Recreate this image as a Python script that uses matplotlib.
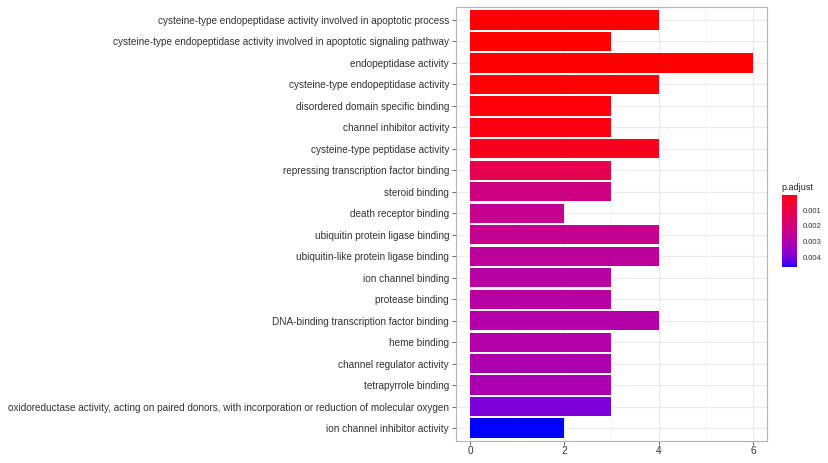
import numpy as np
import matplotlib
matplotlib.use("Agg")
import matplotlib.pyplot as plt
from matplotlib.colors import ListedColormap, Normalize
from matplotlib.ticker import MultipleLocator

terms = [
    "cysteine-type endopeptidase activity involved in apoptotic process",
    "cysteine-type endopeptidase activity involved in apoptotic signaling pathway",
    "endopeptidase activity",
    "cysteine-type endopeptidase activity",
    "disordered domain specific binding",
    "channel inhibitor activity",
    "cysteine-type peptidase activity",
    "repressing transcription factor binding",
    "steroid binding",
    "death receptor binding",
    "ubiquitin protein ligase binding",
    "ubiquitin-like protein ligase binding",
    "ion channel binding",
    "protease binding",
    "DNA-binding transcription factor binding",
    "heme binding",
    "channel regulator activity",
    "tetrapyrrole binding",
    "oxidoreductase activity, acting on paired donors, with incorporation or reduction of molecular oxygen",
    "ion channel inhibitor activity",
]
counts = [4, 3, 6, 4, 3, 3, 4, 3, 3, 2, 4, 4, 3, 3, 4, 3, 3, 3, 3, 2]
p_adjust = [0.00005, 0.00006, 0.00008, 0.0001, 0.00015, 0.0002, 0.0003,
            0.0012, 0.0022, 0.0024, 0.0025, 0.0027, 0.0028, 0.0029, 0.0030,
            0.0030, 0.0031, 0.0031, 0.0039, 0.0046]


def srgb_to_lab(rgb):
    rgb = np.asarray(rgb, float)
    lin = np.where(rgb <= 0.04045, rgb / 12.92, ((rgb + 0.055) / 1.055) ** 2.4)
    m = np.array([[0.4124, 0.3576, 0.1805],
                  [0.2126, 0.7152, 0.0722],
                  [0.0193, 0.1192, 0.9505]])
    xyz = m @ lin / np.array([0.95047, 1.0, 1.08883])
    f = np.where(xyz > 0.008856, np.cbrt(xyz), 7.787 * xyz + 16 / 116)
    return np.array([116 * f[1] - 16, 500 * (f[0] - f[1]), 200 * (f[1] - f[2])])


def lab_to_srgb(lab):
    L, a, b = lab
    fy = (L + 16) / 116
    fx = fy + a / 500
    fz = fy - b / 200
    f = np.array([fx, fy, fz])
    xyz = np.where(f ** 3 > 0.008856, f ** 3, (f - 16 / 116) / 7.787)
    xyz = xyz * np.array([0.95047, 1.0, 1.08883])
    minv = np.array([[3.2406, -1.5372, -0.4986],
                     [-0.9689, 1.8758, 0.0415],
                     [0.0557, -0.2040, 1.0570]])
    lin = minv @ xyz
    lin = np.clip(lin, 0, 1)
    rgb = np.where(lin <= 0.0031308, 12.92 * lin, 1.055 * lin ** (1 / 2.4) - 0.055)
    return np.clip(rgb, 0, 1)


# red -> blue gradient interpolated in Lab, like ggplot's scale_fill_continuous
lab_lo = srgb_to_lab([1, 0, 0])
lab_hi = srgb_to_lab([0, 0, 1])
cmap = ListedColormap([lab_to_srgb(lab_lo + (lab_hi - lab_lo) * t)
                       for t in np.linspace(0, 1, 256)])
norm = Normalize(vmin=min(p_adjust), vmax=max(p_adjust))

plt.rcParams['font.family'] = ['Liberation Sans', 'DejaVu Sans']

W, H = 829, 463
fig = plt.figure(figsize=(W / 100, H / 100), dpi=100)
ax = fig.add_axes([456 / W, 1 - 441 / H, 311 / W, 434 / H])

y = np.arange(len(terms))
ax.barh(y, counts, height=0.9, color=cmap(norm(p_adjust)), zorder=3)
ax.set_ylim(len(terms) - 0.4, -0.6)
ax.set_xlim(-0.3, 6.3)
ax.set_yticks(y)
ax.set_yticklabels(terms)
ax.xaxis.set_major_locator(MultipleLocator(2))
ax.xaxis.set_minor_locator(MultipleLocator(1))
ax.grid(True, which='major', color='#EBEBEB', linewidth=0.8, zorder=0)
ax.grid(True, which='minor', axis='x', color='#F3F3F3', linewidth=0.5, zorder=0)
ax.tick_params(axis='both', which='major', length=3, width=0.6, color='#555555',
               labelsize=7.2, labelcolor='#333333', pad=2)
ax.tick_params(axis='x', which='major', pad=0.5)
ax.tick_params(axis='x', which='minor', length=0)
for s in ax.spines.values():
    s.set_color('#B5B5B5')
    s.set_linewidth(0.8)

cax = fig.add_axes([782 / W, 1 - 267 / H, 15 / W, 72 / H])
sm = plt.cm.ScalarMappable(cmap=cmap, norm=norm)
cb = fig.colorbar(sm, cax=cax)
cb.set_ticks([0.001, 0.002, 0.003, 0.004])
cb.set_ticklabels(["0.001", "0.002", "0.003", "0.004"])
cb.outline.set_visible(False)
cax.invert_yaxis()
cax.tick_params(length=2, width=0.5, color='white', labelsize=5.5,
                labelcolor='#333333', pad=2)
fig.text(781 / W, 1 - 188 / H, "p.adjust", fontsize=6.5, color='#222222',
         ha='left', va='center')

fig.savefig("out.png", dpi=100)
